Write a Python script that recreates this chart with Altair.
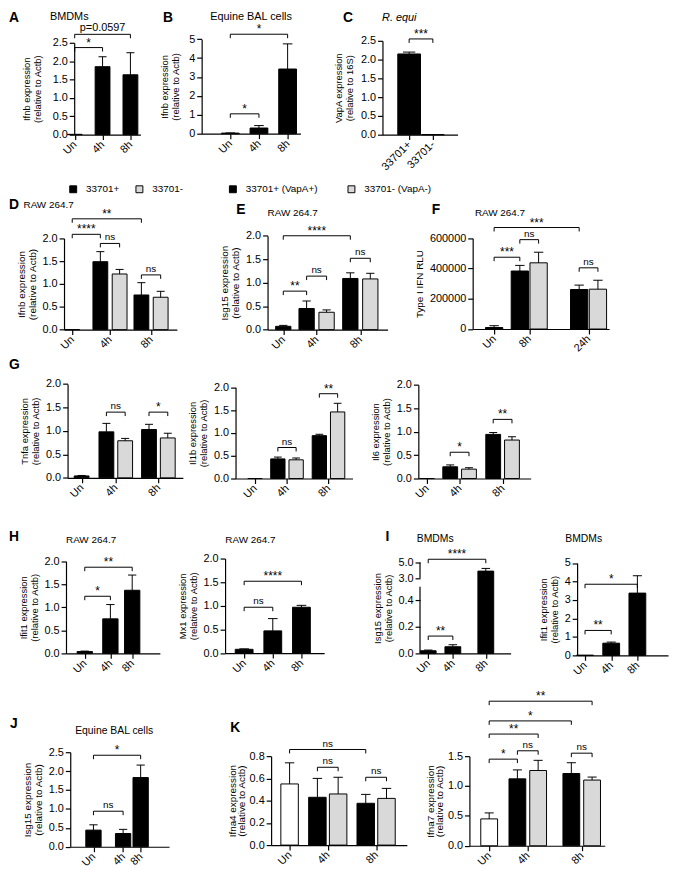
import pandas as pd
import altair as alt

OFF = 16                      # chart coordinate = reference pixel - OFF
WIDTH, HEIGHT = 661, 854
BLACK, GREY, WHITE = "#000000", "#d9d9d9", "#ffffff"
SANS = "Liberation Sans, Arial, Helvetica, sans-serif"
NARROW = "Liberation Sans Narrow, Arial Narrow, Liberation Sans, sans-serif"
FILLS = {"mock": BLACK, "R+": BLACK, "R-": GREY, "none": WHITE}

# ------------------------------------------------------------------ values
A_groups = ["Un", "4h", "8h"]
A_strain = ["mock", "R+", "R+"]
A_mean = [0.01, 1.85, 1.63]
A_sem = [0.0, 0.27, 0.60]
A_brackets = [(0, 1, 2.37, "*"), (0, 2, 2.73, "p=0.0597")]

B_groups = ["Un", "4h", "8h"]
B_strain = ["mock", "R+", "R+"]
B_mean = [0.03, 0.30, 3.42]
B_sem = [0.01, 0.13, 1.33]
B_brackets = [(0, 1, 1.05, "*"), (0, 2, 5.26, "*")]

C_groups = ["33701+", "33701-"]
C_strain = ["R+", "R+"]
C_mean = [2.15, 0.0]
C_sem = [0.05, 0.0]
C_brackets = [(0, 1, 2.55, "***")]

LEGEND_1 = ["33701+", "33701-"]
LEGEND_2 = ["33701+ (VapA+)", "33701- (VapA-)"]

D_groups = ["Un", "4h", "8h"]
D_strain = ["mock", "R+", "R-", "R+", "R-"]
D_mean = [0.0, 1.49, 1.22, 0.76, 0.71]
D_sem = [0.0, 0.22, 0.10, 0.27, 0.13]
D_brackets = [(0, 1, 2.09, "****"), (0, 3, 2.43, "**"), (1, 2, 1.89, "ns"), (3, 4, 1.20, "ns")]

E_groups = ["Un", "4h", "8h"]
E_strain = ["mock", "R+", "R-", "R+", "R-"]
E_mean = [0.07, 0.45, 0.37, 1.09, 1.08]
E_sem = [0.02, 0.16, 0.05, 0.12, 0.12]
E_brackets = [(0, 1, 0.82, "**"), (1, 2, 1.14, "ns"), (0, 3, 2.0, "****"), (3, 4, 1.52, "ns")]

F_groups = ["Un", "8h", "24h"]
F_strain = ["mock", "R+", "R-", "R+", "R-"]
F_mean = [10000, 383000, 437000, 261000, 263000]
F_sem = [12000, 37000, 70000, 29000, 59000]
F_brackets = [(0, 3, 670000, "***"), (1, 2, 590000, "ns"), (0, 1, 474000, "***"), (3, 4, 404000, "ns")]

G1_mean = [0.04, 0.98, 0.79, 1.03, 0.85]
G1_sem = [0.01, 0.18, 0.05, 0.11, 0.10]
G1_brackets = [(1, 2, 1.40, "ns"), (3, 4, 1.40, "*")]
G2_mean = [0.0, 0.43, 0.41, 0.94, 1.46]
G2_sem = [0.0, 0.04, 0.04, 0.03, 0.19]
G2_brackets = [(1, 2, 0.68, "ns"), (3, 4, 1.86, "**")]
G3_mean = [0.0, 0.25, 0.20, 0.94, 0.82]
G3_sem = [0.0, 0.04, 0.03, 0.04, 0.07]
G3_brackets = [(1, 2, 0.56, "*"), (3, 4, 1.26, "**")]
G_groups = ["Un", "4h", "8h"]
G_strain = ["mock", "R+", "R-", "R+", "R-"]

T_groups = ["Un", "4h", "8h"]
T_strain = ["mock", "R+", "R+"]
H1_mean = [0.04, 0.75, 1.37]
H1_sem = [0.01, 0.31, 0.33]
H1_brackets = [(0, 1, 1.24, "*"), (0, 2, 1.87, "**")]
H2_mean = [0.08, 0.47, 0.97]
H2_sem = [0.01, 0.26, 0.04]
H2_brackets = [(0, 1, 0.97, "ns"), (0, 2, 1.52, "****")]
I1_mean = [0.02, 0.05, 3.91]
I1_sem = [0.005, 0.015, 0.34]
I1_brackets = [(0, 1, 0.13, "**"), (0, 2, 5.41, "****")]
I1_axis_pieces = [(0.0, 0.5), (3.0, 5.0)]
I2_mean = [0.01, 0.66, 3.37]
I2_sem = [0.0, 0.06, 0.94]
I2_brackets = [(0, 1, 1.35, "**"), (0, 2, 3.85, "*")]
J_mean = [0.44, 0.35, 1.83]
J_sem = [0.14, 0.11, 0.33]
J_brackets = [(0, 1, 0.94, "ns"), (0, 2, 2.42, "*")]

K_groups = ["Un", "4h", "8h"]
K_strain = ["none", "R+", "R-", "R+", "R-"]
K1_mean = [0.55, 0.43, 0.46, 0.376, 0.42]
K1_sem = [0.19, 0.17, 0.15, 0.08, 0.09]
K1_brackets = [(0, 3, 0.86, "ns"), (1, 2, 0.70, "ns"), (3, 4, 0.61, "ns")]
K2_mean = [0.45, 1.12, 1.26, 1.21, 1.10]
K2_sem = [0.10, 0.15, 0.17, 0.18, 0.05]
K2_brackets = [(0, 4, 2.42, "**"), (0, 3, 2.09, "*"), (0, 2, 1.87, "**"),
               (1, 2, 1.59, "ns"), (0, 1, 1.45, "*"), (3, 4, 1.55, "ns")]


# ------------------------------------------------------------------ helpers
def ymap(v, dom, rng):
    i = 0
    while i < len(dom) - 2 and v > dom[i + 1]:
        i += 1
    t = (v - dom[i]) / (dom[i + 1] - dom[i])
    return rng[i] + t * (rng[i + 1] - rng[i])


def yunmap(p, dom, rng):
    i = 0
    while i < len(rng) - 2 and p < rng[i + 1]:
        i += 1
    t = (p - rng[i]) / (rng[i + 1] - rng[i])
    return dom[i] + t * (dom[i + 1] - dom[i])


def panel(groups, nper, strain, mean, sem, brackets, ydom, yticks, yfmt, ytitle, lay,
          legend=None, legend_xy=None, legend_pad=14, tfont=SANS, tsize=10, lsize=11,
          tline=11, tpad=5, pieces=None):
    L, R, c0, u, gaps, bw = lay["L"], lay["R"], lay["c0"], lay["u"], lay["gaps"], lay["bw"]
    yref = lay["y"]
    pos, centers, start = [], [], 0.0
    for gi, n in enumerate(nper):
        if gi > 0:
            start += nper[gi - 1] + gaps[gi - 1]
        pos += [start + k for k in range(n)]
        centers.append(start + (n - 1) / 2)
    hw, cap = bw / (2 * u), 0.27 * bw / u
    xdom = [(L - c0) / u, (R - c0) / u]
    xs = alt.Scale(domain=xdom, range=[L - OFF, R - OFF], nice=False, zero=False)
    ys = alt.Scale(domain=list(ydom), range=[v - OFF for v in yref], nice=False, zero=False)

    expr = "'" + groups[-1] + "'"
    for k in range(len(groups) - 2, -1, -1):
        thr = (centers[k] + centers[k + 1]) / 2
        expr = f"datum.value < {thr:.4f} ? '{groups[k]}' : ({expr})"

    xaxis = alt.Axis(orient="bottom", offset=(yref[0] - OFF) - HEIGHT, values=centers,
                     labelExpr=expr, labelAngle=-45, labelAlign="right", labelBaseline="middle",
                     labelFontSize=11, labelFont=SANS, tickSize=5, labelPadding=3, title=None,
                     labelFlush=False, labelOverlap=False)
    yaxis = alt.Axis(orient="left", offset=-(L - OFF), values=yticks, format=yfmt, title=ytitle,
                     titleFont=tfont, titleFontSize=tsize, titleLineHeight=tline, titlePadding=tpad,
                     labelFontSize=lsize, labelFont=SANS, tickSize=5, labelPadding=2,
                     domain=pieces is None, labelFlush=False, labelOverlap=False)

    df = pd.DataFrame({"pos": pos, "mean": mean, "sem": sem, "strain": strain})
    df["x0"] = df["pos"] - hw
    df["x1"] = df["pos"] + hw
    df["base"] = 0.0
    df["top"] = df["mean"] + df["sem"]
    df["cl"] = df["pos"] - cap
    df["cr"] = df["pos"] + cap
    df["fill"] = df["strain"].map(FILLS)
    if legend is None:
        fill = alt.Fill("fill:N", scale=None)
    else:
        df["lg"] = [legend[1] if s == "R-" else legend[0] for s in strain]
        fill = alt.Fill("lg:N", scale=alt.Scale(domain=legend, range=[BLACK, GREY]),
                        legend=alt.Legend(orient="none", legendX=legend_xy[0] - OFF,
                                          legendY=legend_xy[1] - OFF, direction="horizontal",
                                          title=None, symbolType="square", symbolSize=49,
                                          symbolStrokeColor="black", symbolStrokeWidth=1,
                                          labelFont=SANS, labelFontSize=10, labelOffset=8,
                                          columnPadding=legend_pad, padding=0))
    # only the bar layer defines the axes; the other layers share the same scales
    layers = [alt.Chart(df).mark_rect(stroke="black", strokeWidth=1).encode(
        x=alt.X("x0:Q", scale=xs, axis=xaxis), x2="x1:Q",
        y=alt.Y("base:Q", scale=ys, axis=yaxis), y2="mean:Q", fill=fill)]
    dfe = df[df["sem"] > 0]
    if len(dfe):
        layers.append(alt.Chart(dfe).mark_rule(color="black", strokeWidth=1).encode(
            x=alt.X("pos:Q", scale=xs), y=alt.Y("mean:Q", scale=ys), y2="top:Q"))
        layers.append(alt.Chart(dfe).mark_rule(color="black", strokeWidth=1).encode(
            x=alt.X("cl:Q", scale=xs), x2="cr:Q", y=alt.Y("top:Q", scale=ys)))
    if pieces:
        seg = pd.DataFrame({"x": [xdom[0]] * len(pieces), "lo": [p[0] for p in pieces],
                            "hi": [p[1] for p in pieces]})
        layers.append(alt.Chart(seg).mark_rule(color="black", strokeWidth=1.2).encode(
            x=alt.X("x:Q", scale=xs), y=alt.Y("lo:Q", scale=ys), y2="hi:Q"))
    rows, labs = [], []
    for b, (i, j, h, lab) in enumerate(brackets):
        low = yunmap(ymap(h, ydom, yref) + 4, ydom, yref)
        xi, xj = pos[i], pos[j]
        rows += [dict(b=b, o=0, bx=xi, by=low), dict(b=b, o=1, bx=xi, by=h),
                 dict(b=b, o=2, bx=xj, by=h), dict(b=b, o=3, bx=xj, by=low)]
        labs.append(dict(mx=(xi + xj) / 2, h=h, lab=lab,
                         kind="star" if "*" in lab else ("p" if lab.startswith("p") else "ns")))
    layers.append(alt.Chart(pd.DataFrame(rows)).mark_line(color="black", strokeWidth=1).encode(
        x=alt.X("bx:Q", scale=xs), y=alt.Y("by:Q", scale=ys), detail="b:N", order="o:Q"))
    ldf = pd.DataFrame(labs)
    for kind, font, size, dy in [("star", SANS, 12, -1), ("ns", NARROW, 10, -3), ("p", SANS, 11, -3)]:
        part = ldf[ldf["kind"] == kind]
        if len(part):
            layers.append(alt.Chart(part).mark_text(font=font, fontSize=size, baseline="alphabetic",
                                                    dy=dy, color="black").encode(
                x=alt.X("mx:Q", scale=xs), y=alt.Y("h:Q", scale=ys), text="lab:N"))
    return alt.layer(*layers)


def note(text, x, y, font=SANS, size=10.5, weight="normal", style="normal", align="left"):
    return alt.Chart(pd.DataFrame({"t": [text]})).mark_text(
        font=font, fontSize=size, fontWeight=weight, fontStyle=style, align=align,
        baseline="middle", color="black").encode(text="t:N", x=alt.value(x - OFF), y=alt.value(y - OFF))


T25 = [0, 0.5, 1.0, 1.5, 2.0, 2.5]
T20 = [0, 0.5, 1.0, 1.5, 2.0]
REL = "(relative to Actb)"

panels = [
    panel(A_groups, [1, 1, 1], A_strain, A_mean, A_sem, A_brackets, [0, 2.5], T25, ".1f",
          ["Ifnb expression", REL], dict(L=75, R=142, y=[131, 38], c0=75.5, u=28.2, gaps=[0, 0], bw=15),
          tsize=9.5, tpad=10),
    panel(B_groups, [1, 1, 1], B_strain, B_mean, B_sem, B_brackets, [0, 5], [0, 1, 2, 3, 4, 5], "d",
          ["Ifnb expression", REL], dict(L=204, R=304, y=[130, 34.3], c0=233, u=29, gaps=[0, 0], bw=18),
          tsize=9.5, tpad=8),
    panel(C_groups, [1, 1], C_strain, C_mean, C_sem, C_brackets, [0, 2.5], T25, ".1f",
          ["VapA expression", "(relative to 16S)"], dict(L=387, R=463, y=[131, 36], c0=414, u=24, gaps=[0], bw=23),
          tsize=9.5, tpad=6),
    panel(D_groups, [1, 2, 2], D_strain, D_mean, D_sem, D_brackets, [0, 2], T20, ".1f",
          ["Ifnb expression", REL], dict(L=64.7, R=178.9, y=[328.3, 236], c0=73, u=19.5, gaps=[0.46, 0.13], bw=15),
          legend=LEGEND_1, legend_xy=(69, 181), legend_pad=14),
    panel(E_groups, [1, 2, 2], E_strain, E_mean, E_sem, E_brackets, [0, 2], T20, ".1f",
          ["Isg15 expression", REL], dict(L=270.7, R=392.2, y=[328.3, 233.3], c0=286.6, u=20.2, gaps=[0.17, 0.19], bw=15.5),
          legend=LEGEND_2, legend_xy=(230.6, 181), legend_pad=28),
    panel(F_groups, [1, 2, 2], F_strain, F_mean, F_sem, F_brackets, [0, 600000],
          [0, 200000, 400000, 600000], "d", "Type I IFN RLU",
          dict(L=478.3, R=616.4, y=[327.7, 235.7], c0=500, u=19, gaps=[0.37, 1.16], bw=17.5)),
    panel(G_groups, [1, 2, 2], G_strain, G1_mean, G1_sem, G1_brackets, [0, 2], T20, ".1f",
          ["Tnfa expression", REL], dict(L=68.3, R=185, y=[478.3, 383.3], c0=82.5, u=19, gaps=[0.32, 0.27], bw=15),
          tsize=9.5),
    panel(G_groups, [1, 2, 2], G_strain, G2_mean, G2_sem, G2_brackets, [0, 2], T20, ".1f",
          ["Il1b expression", REL], dict(L=238.3, R=356.7, y=[479, 386.7], c0=258, u=18.5, gaps=[0.25, 0.27], bw=14.5),
          tsize=9.5),
    panel(G_groups, [1, 2, 2], G_strain, G3_mean, G3_sem, G3_brackets, [0, 2], T20, ".1f",
          ["Il6 expression", REL], dict(L=423.3, R=537, y=[479, 384], c0=432, u=19, gaps=[0.24, 0.29], bw=15),
          tsize=9.5),
    panel(T_groups, [1, 1, 1], T_strain, H1_mean, H1_sem, H1_brackets, [0, 2], T20, ".1f",
          ["Ifit1 expression", REL], dict(L=66.7, R=161.7, y=[656, 562.7], c0=85.7, u=24, gaps=[0.08, -0.08], bw=15.5),
          tsize=9.5),
    panel(T_groups, [1, 1, 1], T_strain, H2_mean, H2_sem, H2_brackets, [0, 2], T20, ".1f",
          ["Mx1 expression", REL], dict(L=227.7, R=328, y=[655.7, 560], c0=247, u=29, gaps=[0, 0], bw=18),
          tsize=9.5),
    panel(T_groups, [1, 1, 1], T_strain, I1_mean, I1_sem, I1_brackets, [0, 0.5, 3.0, 5.0],
          [0, 0.2, 0.4, 3.0, 5.0], ".1f", ["Isg15 expression", REL],
          dict(L=425, R=516.7, y=[656, 588.5, 580, 564], c0=433.3, u=29, gaps=[-0.14, 0.15], bw=16),
          tsize=9.5, pieces=I1_axis_pieces),
    panel(T_groups, [1, 1, 1], T_strain, I2_mean, I2_sem, I2_brackets, [0, 5], [0, 1, 2, 3, 4, 5], "d",
          ["Ifit1 expression", REL], dict(L=584, R=676, y=[658, 564.5], c0=592, u=26.5, gaps=[0, 0], bw=17),
          tsize=9.5),
    panel(T_groups, [1, 1, 1], T_strain, J_mean, J_sem, J_brackets, [0, 2.5], T25, ".1f",
          ["Isg15 expression", REL], dict(L=71, R=171, y=[851.7, 756], c0=94.5, u=24, gaps=[0.25, -0.26], bw=15.5)),
    panel(K_groups, [1, 2, 2], K_strain, K1_mean, K1_sem, K1_brackets, [0, 0.8], [0, 0.2, 0.4, 0.6, 0.8], ".1f",
          ["Ifna4 expression", REL], dict(L=274.3, R=411.7, y=[850, 760], c0=293, u=21, gaps=[0.34, 0.33], bw=17.7),
          tline=9, tpad=3),
    panel(K_groups, [1, 2, 2], K_strain, K2_mean, K2_sem, K2_brackets, [0, 1.5], [0, 0.5, 1.0, 1.5], ".1f",
          ["Ifna7 expression", REL], dict(L=475, R=612, y=[850.7, 760], c0=495, u=21, gaps=[0.36, 0.6], bw=17),
          tline=9, tpad=3),
]

notes = [
    note("A", 9, 13, SANS, 14, "bold"), note("B", 165, 13, SANS, 14, "bold"),
    note("C", 347, 13, SANS, 14, "bold"), note("D", 9, 202, SANS, 14, "bold"),
    note("E", 239, 207, SANS, 14, "bold"), note("F", 437, 207, SANS, 14, "bold"),
    note("G", 9, 364, SANS, 14, "bold"), note("H", 9, 538, SANS, 14, "bold"),
    note("I", 390, 538, SANS, 14, "bold"), note("J", 10, 728, SANS, 14, "bold"),
    note("K", 233, 732, SANS, 14, "bold"),
    note("BMDMs", 70, 12, SANS, 11, align="center"),
    note("Equine BAL cells", 254, 12, SANS, 11, align="center"),
    note("R. equi", 404, 13, SANS, 11, style="italic", align="center"),
    note("RAW 264.7", 23.7, 202, size=10), note("RAW 264.7", 270.7, 210, size=10),
    note("RAW 264.7", 480.6, 210, size=10),
    note("RAW 264.7", 66.7, 541.7, size=10), note("RAW 264.7", 228, 541, size=10),
    note("BMDMs", 421.7, 540), note("BMDMs", 572, 540),
    note("Equine BAL cells", 76, 735),
]

chart = alt.layer(*panels, *notes).resolve_scale(
    x="independent", y="independent", fill="independent"
).resolve_axis(x="independent", y="independent").resolve_legend(fill="independent").properties(
    width=WIDTH, height=HEIGHT, padding={"left": 8, "top": 8, "right": 0, "bottom": 0},
    autosize=alt.AutoSizeParams(type="none"),
).configure_view(stroke=None).configure_axis(
    grid=False, domainColor="black", tickColor="black", labelColor="black", titleColor="black",
    domainWidth=1.2, tickWidth=1.2, titleFontWeight="normal",
)

chart.save("out.html", embed_options={"renderer": "svg", "actions": False})
